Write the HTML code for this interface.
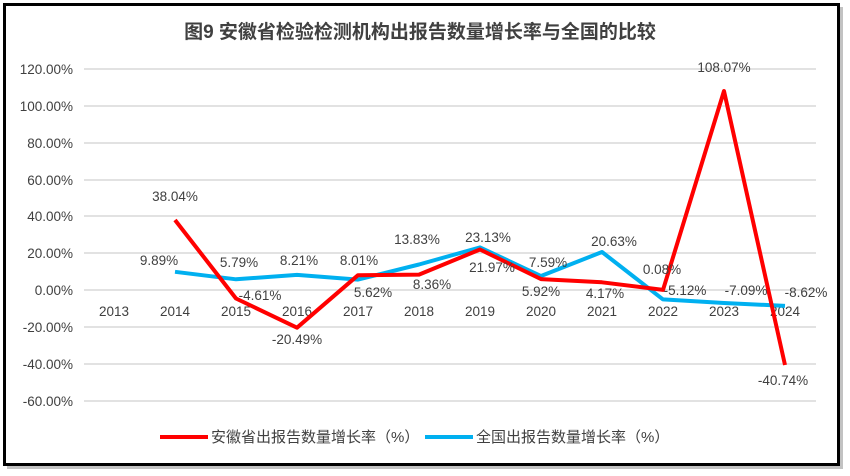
<!DOCTYPE html>
<html><head><meta charset="utf-8"><style>
html,body{margin:0;padding:0;background:#fff;}
svg{display:block;}
text{font-family:"Liberation Sans","Noto Sans CJK SC",sans-serif;fill:#404040;font-size:13.5px;}
</style></head><body>
<svg width="850" height="476" viewBox="0 0 850 476">
<rect x="7" y="7" width="836" height="462" fill="#999" opacity="0.6"/>
<rect x="4.5" y="4.5" width="834" height="460" fill="#fff" stroke="#000" stroke-width="3"/>
<text x="420" y="38" text-anchor="middle" style="font-size:19px;font-weight:bold;fill:#404040">图9 安徽省检验检测机构出报告数量增长率与全国的比较</text>
<g stroke="#d9d9d9" stroke-width="1.5">
<line x1="84" x2="816" y1="69" y2="69"/><line x1="84" x2="816" y1="106" y2="106"/>
<line x1="84" x2="816" y1="143" y2="143"/><line x1="84" x2="816" y1="180" y2="180"/>
<line x1="84" x2="816" y1="216" y2="216"/><line x1="84" x2="816" y1="253" y2="253"/>
<line x1="84" x2="816" y1="290" y2="290"/><line x1="84" x2="816" y1="327" y2="327"/>
<line x1="84" x2="816" y1="364" y2="364"/><line x1="84" x2="816" y1="401" y2="401"/>
</g>
<g text-anchor="end">
<text x="73" y="74">120.00%</text><text x="73" y="111">100.00%</text>
<text x="73" y="148">80.00%</text><text x="73" y="185">60.00%</text>
<text x="73" y="221">40.00%</text><text x="73" y="258">20.00%</text>
<text x="73" y="295">0.00%</text><text x="73" y="332">-20.00%</text>
<text x="73" y="369">-40.00%</text><text x="73" y="406">-60.00%</text>
</g>
<g text-anchor="middle">
<text x="114" y="316">2013</text><text x="175" y="316">2014</text><text x="236" y="316">2015</text>
<text x="297" y="316">2016</text><text x="358" y="316">2017</text><text x="419" y="316">2018</text>
<text x="480" y="316">2019</text><text x="541" y="316">2020</text><text x="602" y="316">2021</text>
<text x="663" y="316">2022</text><text x="724" y="316">2023</text><text x="785" y="316">2024</text>
</g>
<polyline fill="none" stroke="#00b0f0" stroke-width="4" stroke-linejoin="round" points="175,271.8 236,279.3 297,274.9 358,279.6 419,264.5 480,247.4 541,276 602,252 663,299.4 724,303 785,305.9"/>
<polyline fill="none" stroke="#ff0000" stroke-width="4" stroke-linejoin="round" points="175,220 236,298.5 297,327.7 358,275.2 419,274.6 480,249.5 541,279.1 602,282.3 663,289.9 724,91 785,365"/>
<g text-anchor="middle">
<text x="175" y="201">38.04%</text><text x="260" y="300">-4.61%</text><text x="297" y="344">-20.49%</text>
<text x="373" y="297">5.62%</text><text x="432" y="289">8.36%</text><text x="492" y="272">21.97%</text>
<text x="541" y="296">5.92%</text><text x="605" y="298">4.17%</text><text x="662" y="274">0.08%</text>
<text x="724" y="72">108.07%</text><text x="783" y="385">-40.74%</text>
<text x="159" y="265">9.89%</text><text x="239" y="267">5.79%</text><text x="299" y="265">8.21%</text>
<text x="359" y="265">8.01%</text><text x="417" y="244">13.83%</text><text x="488" y="242">23.13%</text>
<text x="548" y="267">7.59%</text><text x="614" y="246">20.63%</text><text x="685" y="295">-5.12%</text>
<text x="746" y="295">-7.09%</text><text x="806" y="297">-8.62%</text>
</g>
<line x1="160" x2="208" y1="437" y2="437" stroke="#ff0000" stroke-width="4"/>
<text x="211" y="442" style="font-size:15px">安徽省出报告数量增长率（%）</text>
<line x1="425" x2="473" y1="437" y2="437" stroke="#00b0f0" stroke-width="4"/>
<text x="476" y="442" style="font-size:15px">全国出报告数量增长率（%）</text>
</svg>
</body></html>
